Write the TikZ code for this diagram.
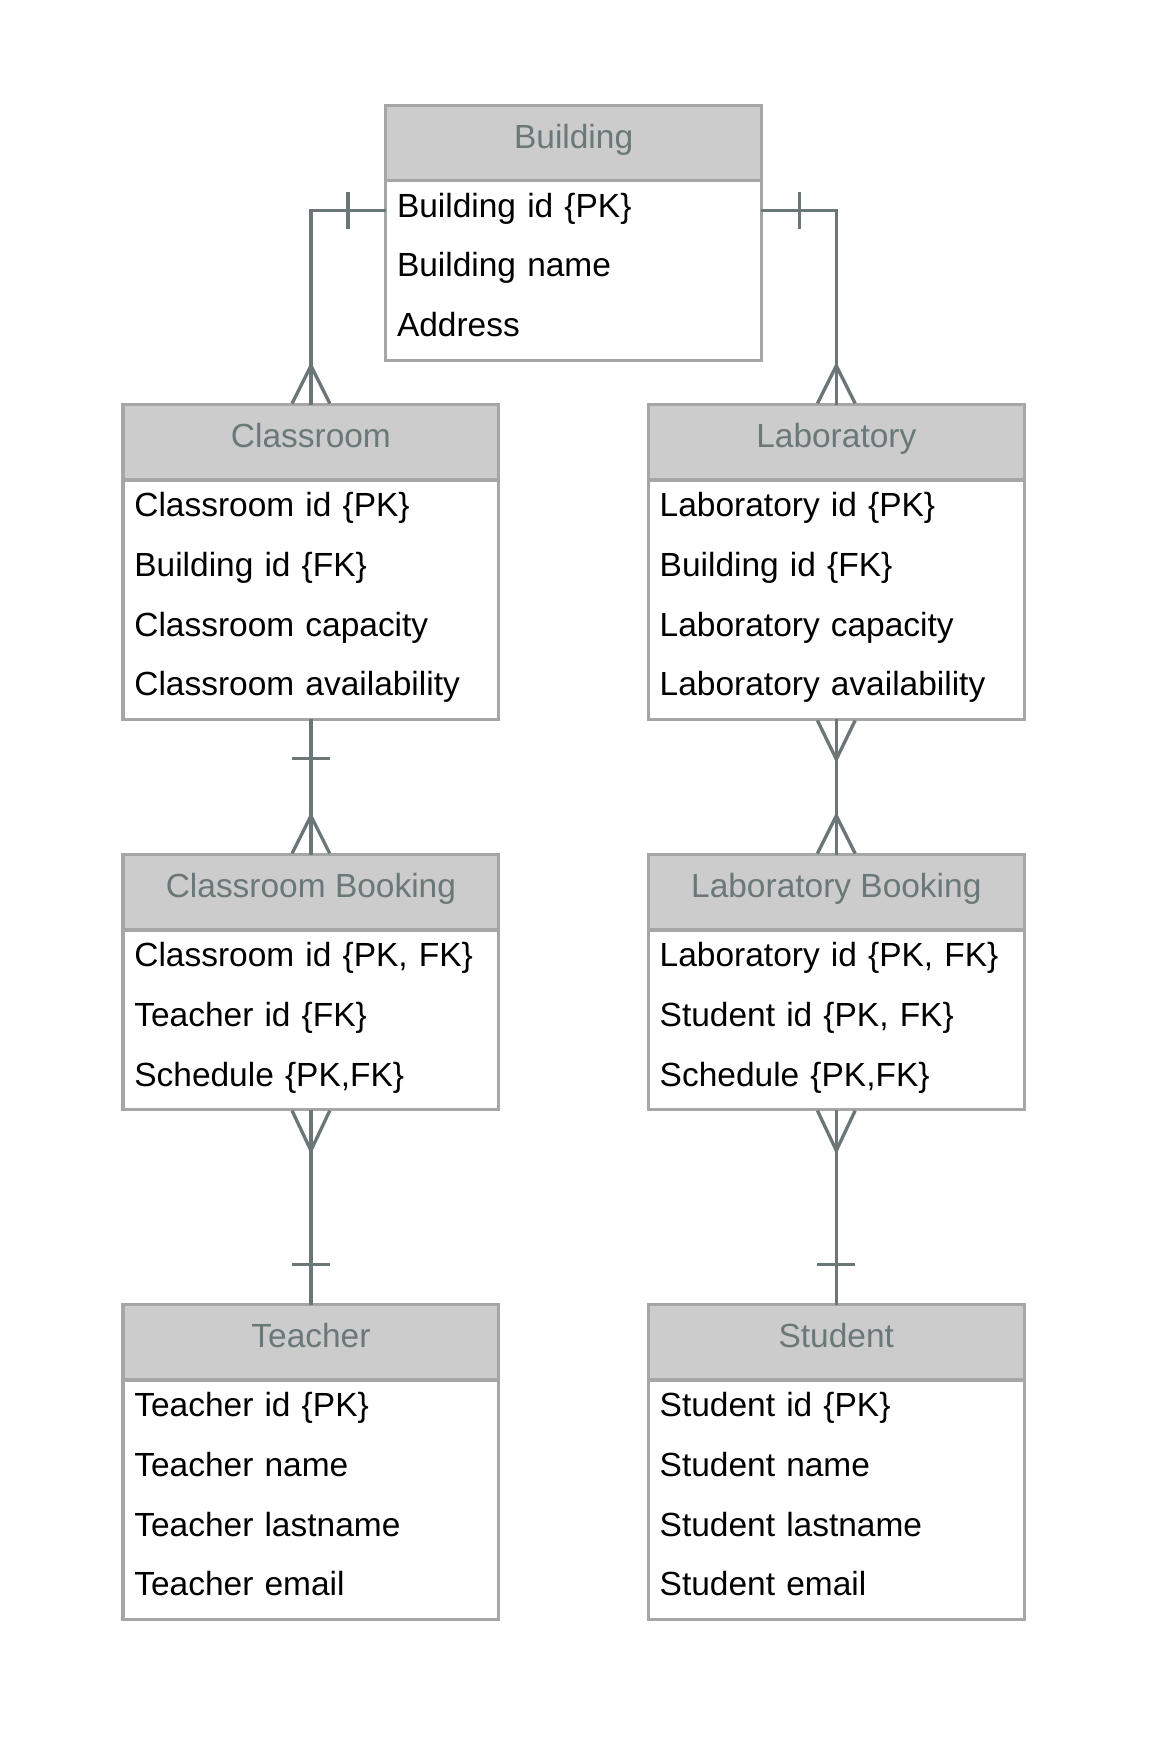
\documentclass[tikz,border=0pt]{standalone}
\usepackage{fontspec}
\setmainfont{Liberation Sans}
\usetikzlibrary{calc}
\definecolor{hdrfill}{HTML}{CCCCCC}
\definecolor{boxline}{HTML}{A6A6A6}
\definecolor{hdrtext}{HTML}{6B7878}
\definecolor{connline}{HTML}{6B7777}
\tikzset{
  hdr/.style={draw=boxline, line width=2.8pt, fill=hdrfill, text=hdrtext,
    minimum width=339pt, minimum height=68pt, inner sep=0pt, outer sep=0pt,
    text height=0.73em, text depth=0.21em},
  hdrtxt/.style={text=hdrtext, inner sep=0pt, text height=0.73em, text depth=0.21em},
  bodybox/.style={draw=boxline, line width=2.8pt, fill=white,
    minimum width=339pt, inner sep=0pt, outer sep=0pt},
  rowcell/.style={text width=319pt, align=left, inner xsep=10pt, inner ysep=0pt,
    minimum height=54pt, text height=0.73em, text depth=0.21em, text=black},
  conn/.style={draw=connline, line width=3pt}
}
\newcommand\erentity[5]{%
  \node[hdr, anchor=north west] (#1) at #2 {};
  \node[hdrtxt] (#1-t) at ($(#1.center)+(0,-2)$) {#3};
  \node[bodybox, minimum height=#4*54pt, anchor=north] (#1-body) at (#1.south) {};
  \foreach \t [count=\i] in {#5} {
    \node[rowcell, anchor=north west] (#1-r\i) at ($(#1-body.north west)+(0,{-54*(\i-1)-3})$) {\t};
  }
}
\begin{document}
\begin{tikzpicture}[x=1pt, y=1pt, font=\fontsize{30.2}{36}\selectfont]
\useasboundingbox (0,0) rectangle (1036,-1568);
\fill[white] (0,0) rectangle (1036,-1568);

\erentity{bld}{(348,-95)}{Building}{3}{{Building id \{PK\}},{Building name},{Address}}
\erentity{cls}{(111,-365)}{Classroom}{4}{{Classroom id \{PK\}},{Building id \{FK\}},{Classroom capacity},{Classroom availability}}
\erentity{lab}{(585,-365)}{Laboratory}{4}{{Laboratory id \{PK\}},{Building id \{FK\}},{Laboratory capacity},{Laboratory availability}}
\erentity{cbk}{(111,-771)}{Classroom Booking}{3}{{Classroom id \{PK, FK\}},{Teacher id \{FK\}},{Schedule \{PK,FK\}}}
\erentity{lbk}{(585,-771)}{Laboratory Booking}{3}{{Laboratory id \{PK, FK\}},{Student id \{PK, FK\}},{Schedule \{PK,FK\}}}
\erentity{tch}{(111,-1177)}{Teacher}{4}{{Teacher id \{PK\}},{Teacher name},{Teacher lastname},{Teacher email}}
\erentity{stu}{(585,-1177)}{Student}{4}{{Student id \{PK\}},{Student name},{Student lastname},{Student email}}

% Building -> Classroom
\coordinate (bl) at ($(bld-body.north west)+(0,-27)$);
\coordinate (br) at ($(bld-body.north east)+(0,-27)$);
\draw[conn] (bl) -| (cls.north);
\draw[conn] ($(bl)+(-34,17)$) -- ($(bl)+(-34,-17)$);
\draw[conn] ($(cls.north)+(-17,1)$) -- ($(cls.north)+(0,35)$) -- ($(cls.north)+(17,1)$);

% Building -> Laboratory
\draw[conn] (br) -| (lab.north);
\draw[conn] ($(br)+(34,17)$) -- ($(br)+(34,-17)$);
\draw[conn] ($(lab.north)+(-17,1)$) -- ($(lab.north)+(0,35)$) -- ($(lab.north)+(17,1)$);

% Classroom -> Classroom Booking
\draw[conn] (cls-body.south) -- (cbk.north);
\draw[conn] ($(cls-body.south)+(-17,-35)$) -- ($(cls-body.south)+(17,-35)$);
\draw[conn] ($(cbk.north)+(-17,1)$) -- ($(cbk.north)+(0,35)$) -- ($(cbk.north)+(17,1)$);

% Laboratory -> Laboratory Booking
\draw[conn] (lab-body.south) -- (lbk.north);
\draw[conn] ($(lab-body.south)+(-17,-1)$) -- ($(lab-body.south)+(0,-36)$) -- ($(lab-body.south)+(17,-1)$);
\draw[conn] ($(lbk.north)+(-17,1)$) -- ($(lbk.north)+(0,35)$) -- ($(lbk.north)+(17,1)$);

% Classroom Booking -> Teacher
\draw[conn] (cbk-body.south) -- (tch.north);
\draw[conn] ($(cbk-body.south)+(-17,-1)$) -- ($(cbk-body.south)+(0,-37)$) -- ($(cbk-body.south)+(17,-1)$);
\draw[conn] ($(tch.north)+(-17,36)$) -- ($(tch.north)+(17,36)$);

% Laboratory Booking -> Student
\draw[conn] (lbk-body.south) -- (stu.north);
\draw[conn] ($(lbk-body.south)+(-17,-1)$) -- ($(lbk-body.south)+(0,-37)$) -- ($(lbk-body.south)+(17,-1)$);
\draw[conn] ($(stu.north)+(-17,36)$) -- ($(stu.north)+(17,36)$);
\end{tikzpicture}
\end{document}
